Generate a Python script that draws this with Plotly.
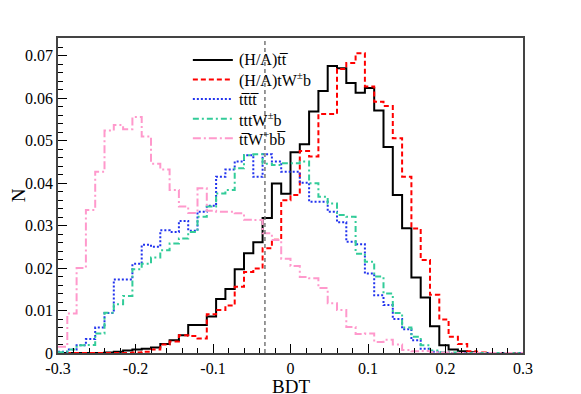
import numpy as np
import plotly.graph_objects as go

# BDT histogram binning: 50 bins between -0.3 and 0.3
bin_lo, bin_hi, n_bins = -0.3, 0.3, 50
bdt_edges = np.linspace(bin_lo, bin_hi, n_bins + 1)

ha_ttbar = [0, 0, 0, 0, 0, 0.0001, 0.0003, 0.0006, 0.0008, 0.0010,
            0.0013, 0.0021, 0.0030, 0.0042, 0.0066, 0.0066, 0.0086, 0.0127, 0.0151, 0.0197,
            0.0235, 0.0261, 0.0318, 0.0399, 0.0375, 0.0473, 0.0492, 0.0569, 0.0617, 0.0676,
            0.0671, 0.0636, 0.0613, 0.0624, 0.0571, 0.0485, 0.0372, 0.0294, 0.0178, 0.0131,
            0.0063, 0.0018, 0.0008, 0.0004, 0.0002, 0, 0, 0, 0, 0]

ha_twb = [0, 0, 0, 0, 0, 0, 0, 0, 0.0001, 0.0003,
          0.0008, 0.0020, 0.0027, 0.0042, 0.0040, 0.0034, 0.0091, 0.0101, 0.0112, 0.0156,
          0.0191, 0.0199, 0.0247, 0.0267, 0.0360, 0.0372, 0.0476, 0.0463, 0.0563, 0.0563,
          0.0669, 0.0683, 0.0706, 0.0628, 0.0592, 0.0582, 0.0506, 0.0415, 0.0293, 0.0219,
          0.0137, 0.0079, 0.0038, 0.0021, 0.0004, 0.0001, 0, 0, 0, 0]

tttt = [0.0003, 0.0008, 0.0018, 0.0033, 0.0060, 0.0094, 0.0173, 0.0173, 0.0210, 0.0255,
        0.0250, 0.0289, 0.0285, 0.0311, 0.0288, 0.0333, 0.0347, 0.0415, 0.0432, 0.0451,
        0.0466, 0.0415, 0.0468, 0.0451, 0.0427, 0.0427, 0.0401, 0.0356, 0.0356, 0.0333,
        0.0308, 0.0262, 0.0256, 0.0187, 0.0136, 0.0113, 0.0080, 0.0056, 0.0030, 0.0010,
        0.0003, 0.0001, 0, 0, 0, 0, 0, 0, 0, 0]

tttwb = [0.0002, 0.0008, 0.0018, 0.0019, 0.0046, 0.0095, 0.0115, 0.0134, 0.0197, 0.0210,
         0.0225, 0.0242, 0.0258, 0.0270, 0.0285, 0.0321, 0.0345, 0.0376, 0.0384, 0.0435,
         0.0466, 0.0468, 0.0446, 0.0443, 0.0447, 0.0447, 0.0451, 0.0400, 0.0368, 0.0352,
         0.0325, 0.0321, 0.0234, 0.0215, 0.0180, 0.0140, 0.0094, 0.0060, 0.0038, 0.0018,
         0.0006, 0.0002, 0.0001, 0, 0, 0, 0, 0, 0, 0]

ttwbb = [0.0015, 0.0093, 0.0200, 0.0337, 0.0427, 0.0524, 0.0537, 0.0527, 0.0556, 0.0510,
         0.0446, 0.0432, 0.0384, 0.0345, 0.0330, 0.0388, 0.0335, 0.0333, 0.0333, 0.0329,
         0.0314, 0.0313, 0.0282, 0.0266, 0.0222, 0.0205, 0.0179, 0.0176, 0.0153, 0.0117,
         0.0101, 0.0061, 0.0045, 0.0046, 0.0026, 0.0031, 0.0020, 0.0007, 0.0004, 0.0005,
         0.0002, 0.0001, 0, 0, 0, 0, 0, 0, 0, 0]

bdt_cut = -0.033

x_ticks = [-0.3, -0.2, -0.1, 0, 0.1, 0.2, 0.3]
x_ticktext = ["-0.3", "-0.2", "-0.1", "0", "0.1", "0.2", "0.3"]
y_ticks = [0, 0.01, 0.02, 0.03, 0.04, 0.05, 0.06, 0.07]
y_ticktext = ["0", "0.01", "0.02", "0.03", "0.04", "0.05", "0.06", "0.07"]

series = [
    ("(H/A)tt\u0305", ha_ttbar, "black", "solid"),
    ("(H/A)tW<sup>\u00b1</sup>b", ha_twb, "#ff0000", "5px,3px"),
    ("tt\u0305tt\u0305", tttt, "#2233ee", "2px,2px"),
    ("tttW<sup>\u00b1</sup>b", tttwb, "#33cc99", "6px,3px,2px,3px"),
    ("tt\u0305W<sup>+</sup>bb\u0305", ttwbb, "#ff99cc", "8px,3px,2px,3px"),
]

SERIF = "Liberation Serif"

fig = go.Figure()

for name, vals, color, dash in series:
    # step outline: left edges plus the final right edge
    xs = list(bdt_edges)
    ys = list(vals) + [vals[-1]]
    fig.add_trace(go.Scatter(
        x=xs, y=ys, name=name, mode="lines", showlegend=False,
        line=dict(color=color, width=2, dash=dash, shape="hv"),
    ))

fig.add_shape(type="line", x0=bdt_cut, x1=bdt_cut, y0=0, y1=1, yref="paper",
              line=dict(color="#777777", width=1.5, dash="4px,3px"))

# ROOT-like legend box (tighter row spacing than plotly's own legend)
leg_x0, leg_x1, leg_text_x = 0.290, 0.376, 0.385
leg_top, leg_step = 0.930, 0.062
for k, (name, vals, color, dash) in enumerate(series):
    ly = leg_top - k * leg_step
    fig.add_shape(type="line", xref="paper", yref="paper",
                  x0=leg_x0, x1=leg_x1, y0=ly, y1=ly,
                  line=dict(color=color, width=2, dash=dash))
    fig.add_annotation(xref="paper", yref="paper", x=leg_text_x, y=ly,
                       text=name, showarrow=False, xanchor="left", yanchor="middle",
                       font=dict(family=SERIF, size=16, color="black"))

# x title placed by hand so it sits where ROOT puts it
fig.add_annotation(xref="paper", yref="paper", x=0.5, y=-0.105,
                   text="BDT", showarrow=False, xanchor="center", yanchor="middle",
                   font=dict(family=SERIF, size=19, color="black"))

# page body adds ~8px offset, margins compensate for it
fig.update_layout(
    width=581, height=394,
    margin=dict(l=50, r=66, t=30, b=49),
    paper_bgcolor="white", plot_bgcolor="white",
    font=dict(family=SERIF, size=16, color="black"),
    showlegend=False,
    xaxis=dict(
        range=[bin_lo, bin_hi], tickvals=x_ticks, ticktext=x_ticktext,
        tickfont=dict(family=SERIF, size=16),
        ticks="inside", ticklen=9, tickcolor="black",
        minor=dict(ticks="inside", ticklen=5, dtick=0.02, tick0=0, tickcolor="black"),
        showgrid=False, zeroline=False, automargin=False,
        showline=True, linecolor="#444444", linewidth=1.5, mirror=True,
    ),
    yaxis=dict(
        range=[0, 0.0742], tickvals=y_ticks, ticktext=y_ticktext,
        tickfont=dict(family=SERIF, size=16),
        ticks="inside", ticklen=9, tickcolor="black",
        minor=dict(ticks="inside", ticklen=5, dtick=0.002, tick0=0, tickcolor="black"),
        showgrid=False, zeroline=False, automargin=False,
        showline=True, linecolor="#444444", linewidth=1.5, mirror=True,
        title=dict(text="N", font=dict(family=SERIF, size=19), standoff=14),
    ),
)

fig.write_html("out.html")
